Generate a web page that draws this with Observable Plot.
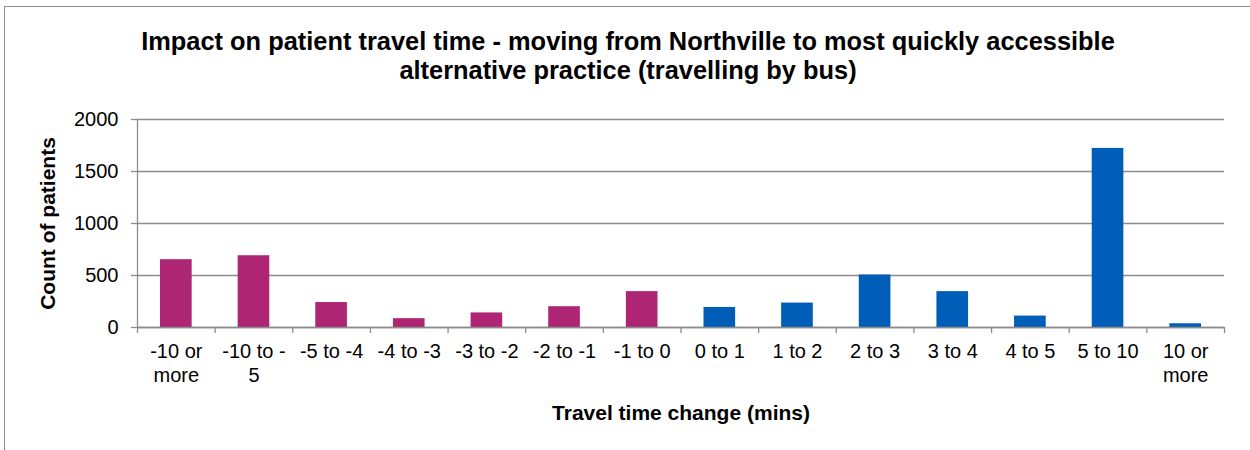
<!DOCTYPE html>
<html>
<head>
<meta charset="utf-8">
<script src="https://cdn.jsdelivr.net/npm/d3@7"></script>
<script src="https://cdn.jsdelivr.net/npm/@observablehq/plot@0.6"></script>
<style>
  html, body { margin: 0; padding: 0; background: #fff; }
  #chart {
    position: relative; width: 1250px; height: 450px; overflow: hidden;
    font-family: "Liberation Sans", Arial, sans-serif; color: #000; background: #fff;
  }
  #frame {
    position: absolute; left: 4px; top: 6px; width: 1300px; height: 500px; z-index: 2;
    border-left: 1.5px solid #8c8c8c; border-top: 1.5px solid #8c8c8c; pointer-events: none;
  }
  #title {
    position: absolute; left: 0; top: 27px; width: 1256px;
    text-align: center; font-weight: bold; font-size: 25.4px; line-height: 29px;
  }
  #plot { position: absolute; left: 0; top: 100px; }
</style>
</head>
<body>
<div id="chart">
  <div id="frame"></div>
  <div id="title">Impact on patient travel time - moving from Northville to most quickly accessible<br>alternative practice (travelling by bus)</div>
  <div id="plot"></div>
</div>
<script>
// Travel time change bands (minutes) and the number of patients in each
const categories = ["-10 or more", "-10 to -5", "-5 to -4", "-4 to -3", "-3 to -2", "-2 to -1", "-1 to 0",
                    "0 to 1", "1 to 2", "2 to 3", "3 to 4", "4 to 5", "5 to 10", "10 or more"];
const tickLabels = ["-10 or\nmore", "-10 to -\n5", "-5 to -4", "-4 to -3", "-3 to -2", "-2 to -1", "-1 to 0",
                    "0 to 1", "1 to 2", "2 to 3", "3 to 4", "4 to 5", "5 to 10", "10 or\nmore"];
const counts = [652, 690, 240, 85, 140, 200, 345, 193, 235, 505, 345, 110, 1722, 36];
const direction = ["shorter", "shorter", "shorter", "shorter", "shorter", "shorter", "shorter",
                   "longer", "longer", "longer", "longer", "longer", "longer", "longer"];
const yTicks = [0, 500, 1000, 1500, 2000];

const data = categories.map((c, i) => ({category: c, index: i, count: counts[i], direction: direction[i]}));
const grey = "#8c8c8c";

const chart = Plot.plot({
  width: 1250,
  height: 350,
  marginTop: 19,
  marginBottom: 123,
  marginLeft: 137,
  marginRight: 26,
  style: {fontFamily: "'Liberation Sans', Arial, sans-serif", fontSize: "20px", color: "#000", background: "transparent"},
  x: {type: "linear", domain: [0, categories.length]},
  y: {domain: [0, 2000]},
  color: {domain: ["shorter", "longer"], range: ["#AE2573", "#005EB8"]},
  marks: [
    Plot.gridY(yTicks, {stroke: grey, strokeOpacity: 1, strokeWidth: 1.3}),
    Plot.ruleX([0], {stroke: grey, strokeWidth: 1.3}),
    Plot.rectY(data, {
      x1: "index", x2: d => d.index + 1, y: "count", fill: "direction",
      insetLeft: 23, insetRight: 23
    }),
    Plot.ruleY([0], {stroke: grey, strokeWidth: 1.5}),
    // tick marks at the band boundaries
    Plot.axisX(d3.range(categories.length + 1), {
      tickSize: 6, stroke: grey, strokeWidth: 1.3, tickFormat: () => "", label: null
    }),
    // category labels centred in each band
    Plot.axisX(d3.range(categories.length).map(i => i + 0.5), {
      tickSize: 0, tickPadding: 13, fontSize: 20, lineHeight: 1.2,
      tickFormat: v => tickLabels[Math.floor(v)],
      label: "Travel time change (mins)", labelAnchor: "center", labelArrow: "none",
      labelOffset: 92
    }),
    Plot.axisY(yTicks, {
      tickSize: 6, stroke: grey, strokeWidth: 1.3, tickPadding: 13, fontSize: 20,
      tickFormat: d3.format("d"),
      label: "Count of patients", labelAnchor: "center", labelArrow: "none", labelOffset: 97
    })
  ]
});

// axis titles are bold and slightly larger than the tick labels
chart.querySelectorAll("g[aria-label='x-axis label'] text, g[aria-label='y-axis label'] text")
  .forEach(t => { t.setAttribute("font-weight", "bold"); t.setAttribute("font-size", "21"); });
document.getElementById("plot").appendChild(chart);
</script>
</body>
</html>
